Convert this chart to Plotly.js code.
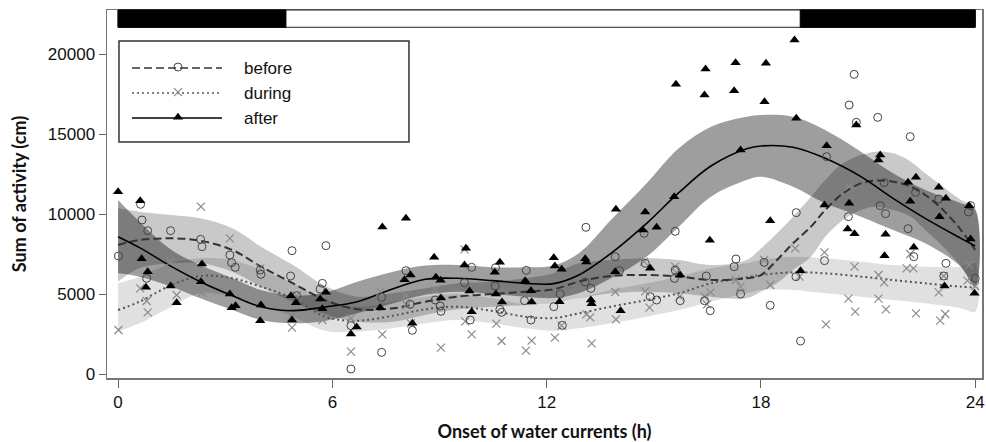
<!DOCTYPE html>
<html>
<head>
<meta charset="utf-8">
<script src="https://cdn.plot.ly/plotly-3.0.1.min.js"></script>
<style>html,body{margin:0;padding:0;background:#fff;}#chart{width:986px;height:442px;}</style>
</head>
<body>
<div id="chart"></div>
<script>
// ---- Light/dark bar (hours) ----
const lightOn = 4.7;
const lightOff = 19.1;
const dayStart = 0;
const dayEnd = 24;

// ---- Fitted curves and confidence bands ----
const afterHours = [0,0.6,1.5,2.3,3.2,4.0,4.9,5.8,6.7,7.7,8.6,9.5,10.5,11.4,12.2,12.9,13.8,14.8,15.7,16.6,17.6,18.0,18.9,19.8,20.8,21.7,22.6,23.6,24.0];
const afterFit   = [8583,7900,6708,5771,4896,4208,3958,4190,4521,5330,5920,5980,5833,5667,5650,6187,7542,9417,11330,13000,14080,14250,14167,13479,12333,10979,9729,8479,8000];
const afterUpper = [10875,9521,7750,6812,5979,5250,4896,5100,5771,6396,6780,6812,6667,6667,6780,7542,9625,11917,14104,15458,16083,16187,16083,15250,13896,12542,11500,10667,10250];
const afterLower = [6292,6083,5458,4729,4000,3375,3167,3320,3792,4417,4950,5146,5000,4833,4750,5042,5979,7333,9208,11083,12125,12333,11708,10667,9833,9000,8167,6708,5458];

const beforeHours = [0,0.6,1.5,2.3,3.2,4.0,4.9,5.8,6.7,7.7,8.6,9.5,10.5,11.4,12.2,12.9,13.8,14.8,15.7,16.6,17.6,18.0,18.45,18.9,19.4,19.8,20.3,20.8,21.2,21.7,22.2,22.6,23.1,23.6,24.0];
const beforeFit   = [8062,8375,8479,8333,7750,6708,5667,4620,4042,4104,4521,4833,5000,5146,5300,5771,6125,6187,6083,5875,5979,6187,7125,8167,9208,10250,11292,11917,12083,12021,11708,11187,10250,9000,7750];
const beforeUpper = [10354,10146,9937,9729,9104,7958,6812,5500,4833,5042,5354,5667,5771,5979,6300,6917,7125,7229,7125,6812,7125,7850,8792,9833,11083,12125,13167,13687,13896,13792,13271,12542,11708,10875,10354];
const beforeLower = [5771,6604,6917,6917,6396,5458,4521,3740,3271,3271,3687,4042,4208,4312,4417,4729,5042,5146,5042,4833,4729,5150,5667,6500,7333,8583,9625,10250,10458,10250,9833,9000,7958,6708,5458];

const duringHours = [0,0.6,1.5,2.3,3.2,4.0,4.9,5.8,6.7,7.7,8.6,9.5,10.5,11.4,12.2,12.9,13.8,14.8,15.7,16.6,17.6,18.0,18.9,19.8,20.8,21.7,22.6,23.6,24.0];
const duringFit   = [4000,4521,5562,6125,5979,5458,4729,3580,3333,3646,4042,4208,3937,3583,3500,3792,4208,4625,5042,5667,6042,6187,6354,6292,6083,5875,5667,5458,5417];
const duringUpper = [5667,6083,6917,7229,7125,6500,5667,4620,4208,4521,4833,5000,4729,4375,4400,4729,5250,5667,6083,6604,6917,7125,7333,7229,7021,6812,6708,6708,6917];
const duringLower = [2646,3167,4208,5042,4833,4312,3583,2700,2646,2854,3167,3375,3167,2854,2700,2854,3167,3583,4000,4521,5042,5250,5250,5042,4833,4625,4417,4104,3896];

// ---- Observations ----
const afterX = [0.0,0.62,0.66,0.83,0.78,1.47,1.64,2.35,2.32,3.13,3.18,3.29,4.0,3.98,4.84,4.98,4.87,5.66,5.82,5.72,
  6.52,6.68,7.40,8.06,7.34,8.24,8.02,8.19,8.85,8.90,9.03,9.04,9.74,9.70,9.84,9.90,10.69,10.55,10.58,10.75,11.40,11.56,11.58,12.20,12.23,
  12.42,12.36,13.08,13.11,13.24,13.26,13.94,13.92,14.07,14.76,14.69,15.08,14.90,15.57,15.74,15.62,16.45,16.42,17.29,17.25,16.57,17.43,18.14,18.10,18.26,
  18.94,18.99,19.84,19.78,19.11,20.47,20.43,20.62,20.67,21.29,21.34,21.46,21.49,22.12,22.34,22.18,22.28,22.98,23.18,23.0,23.14,23.83,23.87,23.98];
const afterY = [11394,10830,7206,6394,5417,5500,4458,6875,5771,5000,4146,4271,4312,3333,4896,4458,3375,4687,5104,4083,
  2500,2937,9187,9729,4146,3167,5896,6187,7291,6042,5854,4750,7854,6812,5187,3896,6979,6354,5000,4500,5833,5208,4500,7271,6750,
  6542,4521,7208,7000,4625,4396,10292,6396,3958,10125,9000,9167,6604,11083,6187,18104,19062,17437,19458,17708,8354,14000,19417,17021,9583,
  20875,15979,14271,10562,6458,10667,9062,8771,15562,13375,13687,7396,8729,11979,12292,10792,7917,11667,10979,9833,5500,10521,8437,5042];

const beforeX = [0.01,0.63,0.67,0.83,1.47,0.80,2.31,2.35,3.13,3.18,3.28,3.98,4.0,4.87,4.83,5.0,5.82,5.72,5.66,
  6.52,6.52,7.38,7.38,8.06,8.24,8.18,8.88,9.02,9.04,9.70,9.90,9.86,10.57,10.56,10.69,10.74,11.43,11.38,11.56,12.20,
  12.38,12.44,13.10,13.08,13.24,13.92,14.04,14.73,14.76,14.90,15.08,15.60,15.60,15.58,15.74,16.47,16.42,16.58,17.30,17.25,17.43,18.09,18.26,
  20.61,20.47,20.67,21.27,22.18,19.84,18.99,19.11,18.98,19.78,20.45,21.34,21.49,21.45,22.12,22.33,22.98,22.28,23.18,23.12,23.81,23.87,24.0];
const beforeY = [7375,10604,9625,8958,8958,5979,8417,7958,7437,6958,6667,6500,6229,7708,6125,4896,8021,5667,5312,
  312,3021,4792,1354,6458,2729,4354,4625,4250,3917,5708,6667,3375,6646,5500,4042,3854,6479,4583,3375,4208,
  5000,3042,9167,5750,5354,7333,6458,8792,6917,4833,4625,8917,6500,5979,4583,6125,4583,3958,7187,6708,5000,6979,4292,
  18729,16812,15729,16042,14833,13583,10083,2062,6083,7083,9833,10521,10021,11958,9083,11354,10937,7333,6917,6125,10125,10521,5979];

const duringX = [0.01,2.32,0.62,0.80,0.83,1.47,1.64,2.35,3.13,3.28,3.98,4.87,4.84,5.0,5.72,
  6.52,6.52,7.40,7.34,8.04,8.08,8.20,8.88,9.04,9.70,9.72,9.90,10.59,10.74,11.42,11.58,12.23,
  12.42,13.26,13.11,13.22,13.92,13.94,14.73,14.76,14.88,15.60,15.63,15.72,16.42,16.59,16.49,17.30,17.43,18.09,18.26,
  18.96,19.08,19.82,19.78,20.47,20.62,20.45,20.64,21.29,21.45,21.29,21.50,22.08,22.27,22.18,22.34,22.98,23.02,23.16,23.12,23.83,23.78,24.0];
const duringY = [2750,10458,5354,4562,3854,7021,4937,5083,8479,5083,6604,2896,3583,4896,3375,
  1396,3479,2479,5146,4896,4312,3167,5250,1646,7792,3292,2479,3146,2062,1458,2083,2271,
  3021,1917,3729,3542,5125,3417,7021,5167,4146,6708,6333,4833,4833,5104,4354,5875,5458,7125,5562,
  7854,6083,3104,7604,11708,6708,4708,3896,6187,5729,4708,4042,6604,6604,7500,3792,5104,3333,3750,6125,6812,5833,5500];

const xTicks = [0, 6, 12, 18, 24];
const yTicks = [0, 5000, 10000, 15000, 20000];
const seriesNames = ['before', 'during', 'after'];

const beforeDash = '8px,4px';
const duringDash = '2px,3px';

function band(h, up, lo, color) {
  return {
    x: h.concat(h.slice().reverse()),
    y: up.concat(lo.slice().reverse()),
    type: 'scatter', mode: 'lines', fill: 'toself',
    fillcolor: color, line: {width: 0, shape: 'spline', smoothing: 1},
    hoverinfo: 'skip', showlegend: false
  };
}
function fit(h, v, dash, color, width) {
  return {x: h, y: v, type: 'scatter', mode: 'lines',
    line: {color: color, dash: dash, width: width, shape: 'spline', smoothing: 1},
    showlegend: false};
}

const beforeMarker = {symbol: 'circle-open', size: 8, color: '#444', line: {width: 1}};
const duringMarker = {symbol: 'x-thin-open', size: 8, color: '#8a8a8a', line: {width: 1.2, color: '#8a8a8a'}};
const afterMarker  = {symbol: 'triangle-up', size: 9, color: '#000'};

const traces = [
  band(duringHours, duringUpper, duringLower, 'rgba(0,0,0,0.12)'),
  band(beforeHours, beforeUpper, beforeLower, 'rgba(0,0,0,0.21)'),
  band(afterHours, afterUpper, afterLower, 'rgba(0,0,0,0.38)'),
  fit(duringHours, duringFit, duringDash, '#555', 2),
  fit(beforeHours, beforeFit, beforeDash, '#333', 2),
  fit(afterHours, afterFit, 'solid', '#000', 1.6),
  {x: duringX, y: duringY, type: 'scatter', mode: 'markers', marker: duringMarker, showlegend: false},
  {x: beforeX, y: beforeY, type: 'scatter', mode: 'markers', marker: beforeMarker, showlegend: false},
  {x: afterX, y: afterY, type: 'scatter', mode: 'markers', marker: afterMarker, showlegend: false},
  // legend entries (markers; sample lines drawn as shapes behind them)
  {x: [null], y: [null], type: 'scatter', mode: 'markers', name: seriesNames[0], marker: beforeMarker},
  {x: [null], y: [null], type: 'scatter', mode: 'markers', name: seriesNames[1], marker: duringMarker},
  {x: [null], y: [null], type: 'scatter', mode: 'markers', name: seriesNames[2], marker: afterMarker}
];

// legend geometry (paper fractions)
const legRows = [0.8424, 0.7745, 0.7065];
const legLineX = [0.0286, 0.1314];
const legendShapes = [
  {type: 'rect', xref: 'paper', yref: 'paper', x0: 0.0137, x1: 0.3451, y0: 0.6413, y1: 0.9158,
    fillcolor: '#fff', line: {color: '#333', width: 1.5}, layer: 'above'},
  {type: 'line', xref: 'paper', yref: 'paper', x0: legLineX[0], x1: legLineX[1], y0: legRows[0], y1: legRows[0],
    line: {color: '#333', width: 1.5, dash: beforeDash}, layer: 'above'},
  {type: 'line', xref: 'paper', yref: 'paper', x0: legLineX[0], x1: legLineX[1], y0: legRows[1], y1: legRows[1],
    line: {color: '#555', width: 1.5, dash: duringDash}, layer: 'above'},
  {type: 'line', xref: 'paper', yref: 'paper', x0: legLineX[0], x1: legLineX[1], y0: legRows[2], y1: legRows[2],
    line: {color: '#000', width: 1.5}, layer: 'above'}
];

const layout = {
  width: 986, height: 442,
  margin: {l: 107, r: 4, t: 10, b: 64},
  paper_bgcolor: '#fff', plot_bgcolor: '#fff',
  showlegend: true,
  legend: {x: 0.0057, y: 0.8927, xanchor: 'left', yanchor: 'top',
    borderwidth: 0, bgcolor: 'rgba(0,0,0,0)',
    font: {family: 'Liberation Sans, Arial, sans-serif', size: 17, color: '#111'},
    itemwidth: 122, tracegroupgap: 0},
  xaxis: {
    range: [-0.31, 24.19], tickvals: xTicks, ticktext: xTicks.map(String),
    ticks: 'outside', ticklen: 8, tickwidth: 1, tickcolor: '#666',
    showline: true, linecolor: '#777', linewidth: 1.5, mirror: true,
    showgrid: false, zeroline: false,
    tickfont: {family: 'Liberation Sans, Arial, sans-serif', size: 17, color: '#111'},
    title: {text: 'Onset of water currents (h)', standoff: 14,
      font: {family: 'Lato, sans-serif', size: 18, weight: 700, color: '#111'}}
  },
  yaxis: {
    range: [-250, 22750], tickvals: yTicks, ticktext: yTicks.map(String),
    ticks: 'outside', ticklen: 7, tickwidth: 1, tickcolor: '#666',
    showline: true, linecolor: '#777', linewidth: 1.5, mirror: true,
    showgrid: false, zeroline: false,
    tickfont: {family: 'Liberation Sans, Arial, sans-serif', size: 17, color: '#111'},
    title: {text: 'Sum of activity (cm)', standoff: 16,
      font: {family: 'Lato, sans-serif', size: 18, weight: 700, color: '#111'}}
  },
  shapes: [
    {type: 'rect', xref: 'x', yref: 'paper', x0: dayStart, x1: dayEnd, y0: 0.953, y1: 1,
      fillcolor: '#fff', line: {color: '#222', width: 1}},
    {type: 'rect', xref: 'x', yref: 'paper', x0: dayStart, x1: lightOn, y0: 0.953, y1: 1,
      fillcolor: '#000', line: {color: '#000', width: 1}},
    {type: 'rect', xref: 'x', yref: 'paper', x0: lightOff, x1: dayEnd, y0: 0.953, y1: 1,
      fillcolor: '#000', line: {color: '#000', width: 1}}
  ].concat(legendShapes)
};

Plotly.newPlot('chart', traces, layout, {displayModeBar: false, staticPlot: true});
</script>
</body>
</html>
